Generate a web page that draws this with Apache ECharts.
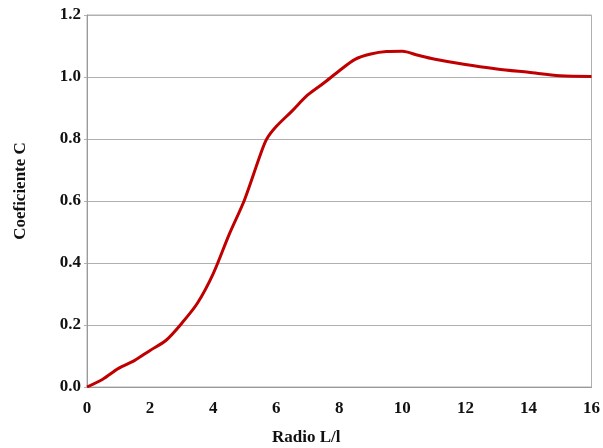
<!DOCTYPE html>
<html>
<head>
<meta charset="utf-8">
<script src="https://cdn.jsdelivr.net/npm/echarts@6/dist/echarts.min.js"></script>
<style>
  html, body { margin: 0; padding: 0; background: #fff; }
  #chart { width: 603px; height: 448px; }
</style>
</head>
<body>
<div id="chart"></div>
<script>
// datos
var ratio = [0, 0.5, 1, 1.5, 2, 2.5, 3, 3.5, 4, 4.5, 5, 5.5, 5.7, 6, 6.5, 7, 7.5, 8, 8.5, 9, 9.5, 10, 10.5, 11, 12, 13, 14, 15, 16]
var coef = [0.0, 0.025, 0.06, 0.085, 0.118, 0.15, 0.205, 0.27, 0.365, 0.49, 0.605, 0.75, 0.8, 0.84, 0.89, 0.942, 0.98, 1.02, 1.057, 1.074, 1.082, 1.083, 1.07, 1.058, 1.04, 1.026, 1.015, 1.004, 1.002]
var xTicks = [0, 2, 4, 6, 8, 10, 12, 14, 16]
var yTicks = ['0.0', '0.2', '0.4', '0.6', '0.8', '1.0', '1.2']

var serif = 'Liberation Serif'
var chart = echarts.init(document.getElementById('chart'))

var option = {
  animation: false,
  title: {
    text: 'Radio L/l',
    left: 272,
    top: 429,
    padding: 0,
    textStyle: { fontFamily: serif, fontWeight: 'bold', fontSize: 17, color: '#111' }
  },
  grid: {
    left: 87,
    right: 10,
    top: 15,
    bottom: 61,
    show: true,
    borderColor: '#b0b0b0',
    borderWidth: 1
  },
  xAxis: {
    type: 'value',
    min: 0,
    max: 16,
    interval: 2,
    axisLine: { show: true, lineStyle: { color: '#9a9a9a' } },
    axisTick: { show: false },
    splitLine: { show: false },
    axisLabel: {
      margin: 13,
      fontFamily: serif,
      fontWeight: 'bold',
      fontSize: 17,
      color: '#111',
      formatter: function (v) { return xTicks.indexOf(v) >= 0 ? String(v) : '' }
    }
  },
  yAxis: {
    type: 'value',
    min: 0,
    max: 1.2,
    interval: 0.2,
    name: 'Coeficiente C',
    nameLocation: 'middle',
    nameGap: 58,
    nameTextStyle: { fontFamily: serif, fontWeight: 'bold', fontSize: 17, color: '#111', padding: [0, 0, 0, 20] },
    axisLine: { show: true, lineStyle: { color: '#9a9a9a' } },
    axisTick: { show: true, length: 3, lineStyle: { color: '#b0b0b0' } },
    splitLine: { show: true, lineStyle: { color: '#b0b0b0', width: 1 } },
    axisLabel: {
      margin: 6,
      fontFamily: serif,
      fontWeight: 'bold',
      fontSize: 17,
      color: '#111',
      formatter: function (v) { return yTicks[Math.round(v / 0.2)] }
    }
  },
  series: [{
    type: 'line',
    data: ratio.map(function (x, i) { return [x, coef[i]] }),
    smooth: 0.3,
    showSymbol: false,
    lineStyle: { color: '#c00000', width: 3 }
  }]
}

chart.setOption(option)
</script>
</body>
</html>
